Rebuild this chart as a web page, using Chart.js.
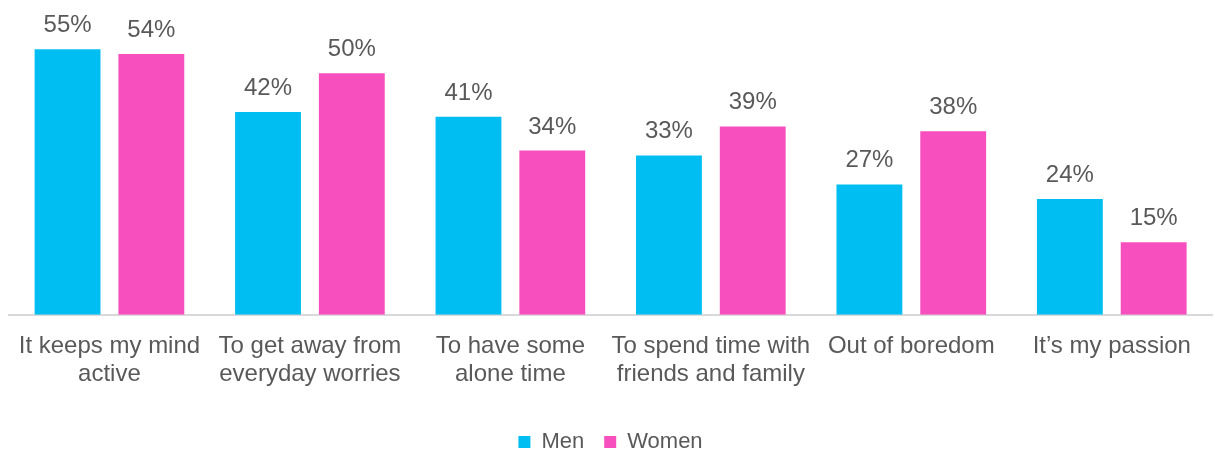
<!DOCTYPE html>
<html>
<head>
<meta charset="utf-8">
<script src="https://cdn.jsdelivr.net/npm/chart.js@4"></script>
<style>
  html, body { margin: 0; padding: 0; background: #fff; }
  #wrap { width: 1215px; height: 450px; }
</style>
</head>
<body>
<div id="wrap"><canvas id="myChart"></canvas></div>
<script>
const categories = [
  ['It keeps my mind', 'active'],
  ['To get away from', 'everyday worries'],
  ['To have some', 'alone time'],
  ['To spend time with', 'friends and family'],
  ['Out of boredom'],
  ['It\u2019s my passion']
];
const men = [55, 42, 41, 33, 27, 24];
const women = [54, 50, 34, 39, 38, 15];

const TEXT = '#595959';
const FONT = 'Arial, "Liberation Sans", sans-serif';

// draw the percentage above every bar
const valueLabels = {
  id: 'valueLabels',
  afterDatasetsDraw(chart) {
    const ctx = chart.ctx;
    ctx.save();
    ctx.font = '24px ' + FONT;
    ctx.fillStyle = TEXT;
    ctx.textAlign = 'center';
    ctx.textBaseline = 'alphabetic';
    chart.data.datasets.forEach((ds, i) => {
      chart.getDatasetMeta(i).data.forEach((bar, j) => {
        ctx.fillText(ds.data[j] + '%', bar.x, bar.y - 17);
      });
    });
    ctx.restore();
  }
};

new Chart(document.getElementById('myChart'), {
  type: 'bar',
  data: {
    labels: categories,
    datasets: [
      { label: 'Men', data: men, backgroundColor: '#00BEF2', categoryPercentage: 0.836, barPercentage: 0.786 },
      { label: 'Women', data: women, backgroundColor: '#F84FBE', categoryPercentage: 0.836, barPercentage: 0.786 }
    ]
  },
  options: {
    responsive: true,
    maintainAspectRatio: false,
    animation: false,
    layout: { padding: { top: 25, left: 9, right: 3, bottom: -13 } },
    scales: {
      x: {
        grid: { display: false, drawTicks: false },
        border: { color: '#D9D9D9', width: 2 },
        ticks: {
          color: TEXT,
          font: { size: 24, family: FONT, lineHeight: 1.15 },
          padding: 18,
          maxRotation: 0,
          autoSkip: false
        },
        afterFit(scale) { scale.height += 5; }
      },
      y: { display: false, min: 0, max: 60 }
    },
    plugins: {
      legend: {
        position: 'bottom',
        labels: {
          color: TEXT,
          font: { size: 22, family: FONT },
          boxWidth: 12,
          boxHeight: 12,
          padding: 20
        }
      },
      tooltip: { enabled: false }
    }
  },
  plugins: [valueLabels]
});
</script>
</body>
</html>
